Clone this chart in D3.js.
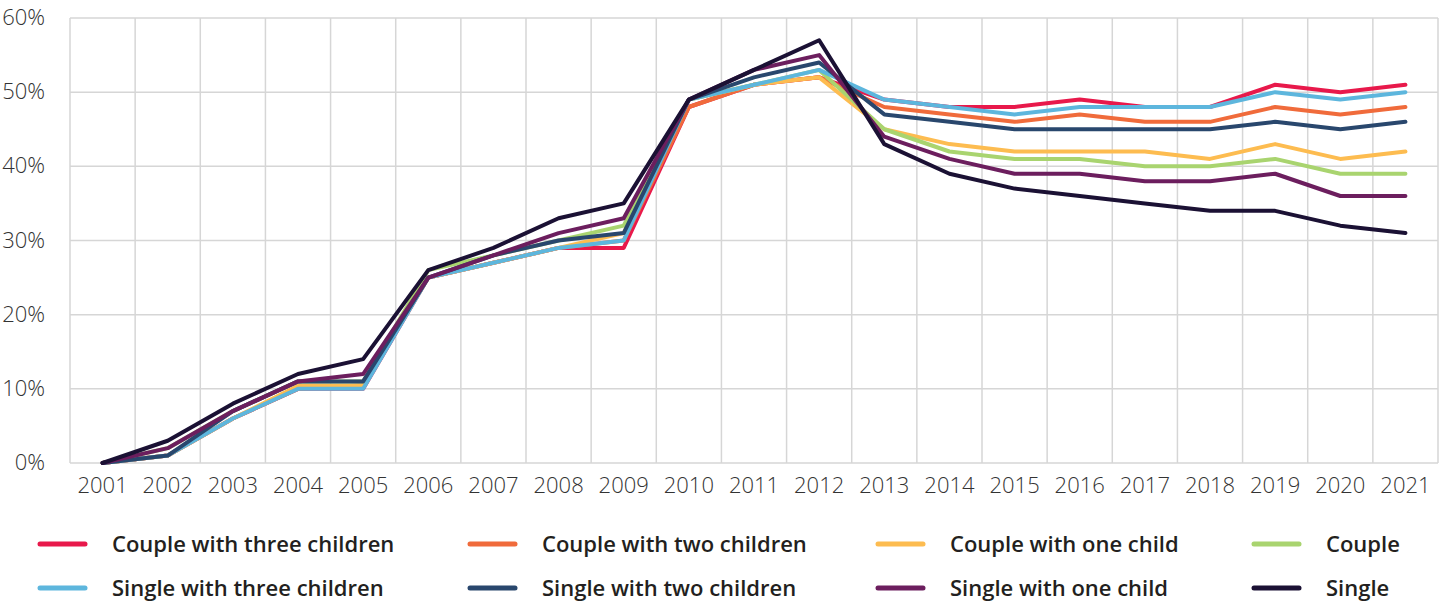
<!DOCTYPE html>
<html>
<head>
<meta charset="utf-8">
<script src="https://cdn.jsdelivr.net/npm/d3@7"></script>
<style>
  body { margin: 0; background: #fff; }
  svg text { font-family: "Open Sans", sans-serif; }
</style>
</head>
<body>
<div id="chart"></div>
<script>
var years = ['2001','2002','2003','2004','2005','2006','2007','2008','2009','2010','2011',
  '2012','2013','2014','2015','2016','2017','2018','2019','2020','2021'];

var coupleThree = [0,1,6,10,10,25,27,29,29,48,51,52,49,48,48,49,48,48,51,50,51];
var coupleTwo   = [0,1,6,10,10.5,25,27,29,30,48,51,52,48,47,46,47,46,46,48,47,48];
var coupleOne   = [0,1,6,10.4,10.4,25,27,29,31,49,51,52,45,43,42,42,42,41,43,41,42];
var couple      = [0,2,7,11,11,26,28,30,32,49,51,53,45,42,41,41,40,40,41,39,39];
var singleThree = [0,1,6,10,10,25,27,29,30,49,51,53,49,48,47,48,48,48,50,49,50];
var singleTwo   = [0,1,7,11,11,25,28,30,31,49,52,54,47,46,45,45,45,45,46,45,46];
var singleOne   = [0,2,7,11,12,25,28,31,33,49,53,55,44,41,39,39,38,38,39,36,36];
var single      = [0,3,8,12,14,26,29,33,35,49,53,57,43,39,37,36,35,34,34,32,31];

var yTicks = [0,10,20,30,40,50,60];

var series = [
  { name: 'Couple with three children', values: coupleThree, color: '#e8194b' },
  { name: 'Couple with two children',   values: coupleTwo,   color: '#f06b3b' },
  { name: 'Couple with one child',      values: coupleOne,   color: '#fdbc50' },
  { name: 'Couple',                     values: couple,      color: '#a9d46f' },
  { name: 'Single with three children', values: singleThree, color: '#5db6dd' },
  { name: 'Single with two children',   values: singleTwo,   color: '#29476d' },
  { name: 'Single with one child',      values: singleOne,   color: '#6c1e5e' },
  { name: 'Single',                     values: single,      color: '#1b1134' }
];

var width = 1452, height = 604;
var margin = { top: 18, left: 70, right: 14, bottom: 141 };

var svg = d3.select('#chart').append('svg')
  .attr('width', width).attr('height', height);

var x = d3.scaleBand().domain(years)
  .range([margin.left, width - margin.right]);
var y = d3.scaleLinear().domain([0, 60])
  .range([height - margin.bottom, margin.top]);

// grid
var grid = svg.append('g').attr('stroke', '#d6d6d6').attr('stroke-width', 1.5);
grid.selectAll('.h').data(yTicks).enter().append('line')
  .attr('x1', margin.left).attr('x2', width - margin.right)
  .attr('y1', function (d) { return y(d); }).attr('y2', function (d) { return y(d); });
var edges = years.map(function (d) { return x(d); }).concat([x.range()[1]]);
grid.selectAll('.v').data(edges).enter().append('line')
  .attr('x1', function (d) { return d; }).attr('x2', function (d) { return d; })
  .attr('y1', margin.top).attr('y2', y(0));

// axes
var yAxis = svg.append('g')
  .attr('transform', 'translate(' + (margin.left - 22) + ',0)')
  .call(d3.axisLeft(y).tickValues(yTicks).tickSize(0)
    .tickFormat(function (d) { return d + '%'; }));
yAxis.select('.domain').remove();
yAxis.selectAll('text').attr('font-size', 22).attr('font-weight', 300)
  .attr('fill', '#333').attr('dy', '0.3em');

var xAxis = svg.append('g')
  .attr('transform', 'translate(0,' + y(0) + ')')
  .call(d3.axisBottom(x).tickSize(0).tickPadding(14));
xAxis.select('.domain').remove();
xAxis.selectAll('text').attr('font-size', 22).attr('font-weight', 300)
  .attr('fill', '#333');

// lines
var line = d3.line()
  .x(function (d, i) { return x(years[i]) + x.bandwidth() / 2; })
  .y(function (d) { return y(d); });

svg.append('g').selectAll('path').data(series).enter().append('path')
  .attr('d', function (s) { return line(s.values); })
  .attr('fill', 'none')
  .attr('stroke', function (s) { return s.color; })
  .attr('stroke-width', 4)
  .attr('stroke-linejoin', 'round')
  .attr('stroke-linecap', 'round');

// legend
var colX = [38, 468, 876, 1252];
var rowY = [544, 588];
var legend = svg.append('g').selectAll('g').data(series).enter().append('g')
  .attr('transform', function (s, i) {
    return 'translate(' + colX[i % 4] + ',' + rowY[Math.floor(i / 4)] + ')';
  });
legend.append('line')
  .attr('x1', 2).attr('x2', 47).attr('y1', 0).attr('y2', 0)
  .attr('stroke', function (s) { return s.color; })
  .attr('stroke-width', 5).attr('stroke-linecap', 'round');
legend.append('text')
  .attr('x', 74).attr('y', 0).attr('dy', '0.35em')
  .attr('font-size', 22).attr('font-weight', 600).attr('fill', '#231f20')
  .text(function (s) { return s.name; });
</script>
</body>
</html>
